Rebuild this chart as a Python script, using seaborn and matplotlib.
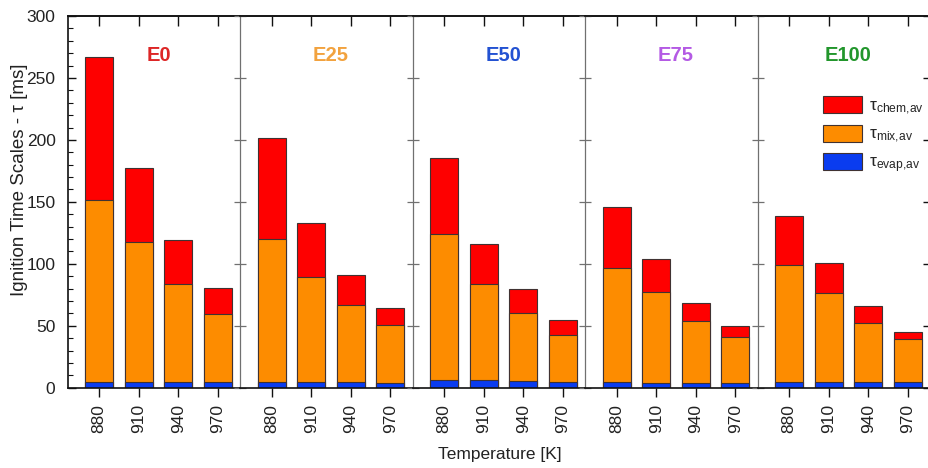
import numpy as np
import pandas as pd
import matplotlib
matplotlib.use("Agg")
import matplotlib.pyplot as plt
import seaborn as sns
from matplotlib.patches import Patch
from matplotlib.ticker import MultipleLocator

# ---------------- data ----------------
fuels = ["E0", "E25", "E50", "E75", "E100"]
fuel_colors = ["#dd2626", "#f2a23e", "#2352d2", "#b45ae4", "#22962c"]
temperatures = ["880", "910", "940", "970"]

# per fuel, per temperature [ms]
tau_evap = [
    [4.5, 4.5, 4.3, 4.3],
    [4.2, 4.2, 4.2, 4.0],
    [6.2, 6.2, 5.6, 4.8],
    [4.3, 3.5, 4.0, 4.0],
    [4.8, 4.8, 4.8, 4.8],
]
tau_mix = [
    [147.3, 113.1, 79.8, 54.8],
    [115.9, 84.8, 62.2, 46.3],
    [117.7, 77.9, 54.3, 37.4],
    [92.7, 73.6, 49.7, 37.1],
    [94.6, 71.8, 47.6, 34.2],
]
tau_chem = [
    [114.9, 59.4, 35.5, 21.5],
    [81.4, 43.7, 24.2, 14.2],
    [61.4, 32.2, 19.4, 12.4],
    [48.9, 26.4, 14.8, 8.6],
    [39.0, 24.1, 13.4, 5.6],
]
legend_labels = [r"τ$_{\mathrm{chem{,}av}}$", r"τ$_{\mathrm{mix{,}av}}$", r"τ$_{\mathrm{evap{,}av}}$"]

RED, ORANGE, BLUE = "#fe0000", "#fd8c00", "#0a3cf0"
EDGE = "#403232"

# ---------------- style ----------------
sns.set_style("ticks")
plt.rcParams["font.family"] = ["Liberation Sans", "DejaVu Sans"]
plt.rcParams["mathtext.fontset"] = "custom"
plt.rcParams["mathtext.rm"] = "Liberation Sans"
plt.rcParams["mathtext.it"] = "Liberation Sans:italic"
plt.rcParams["mathtext.bf"] = "Liberation Sans:bold"

W, H = 929, 468
fig, axes = plt.subplots(1, 5, figsize=(W / 100, H / 100), dpi=100, sharey=True)
fig.subplots_adjust(left=68 / W, right=930.5 / W, bottom=1 - 387.7 / H, top=1 - 16 / H, wspace=0)

for i, ax in enumerate(axes):
    evap = np.array(tau_evap[i])
    mix = np.array(tau_mix[i])
    chem = np.array(tau_chem[i])
    df = pd.DataFrame({
        "T": temperatures,
        "total": evap + mix + chem,
        "evap_mix": evap + mix,
        "evap": evap,
    })
    for col, c in [("total", RED), ("evap_mix", ORANGE), ("evap", BLUE)]:
        sns.barplot(data=df, x="T", y=col, color=c, saturation=1, width=0.7,
                    edgecolor=EDGE, linewidth=0.8, errorbar=None, ax=ax)
    ax.set_xlim(-0.79, 3.577)
    ax.set_ylim(0, 300)
    ax.set_xlabel("")
    ax.set_ylabel("")
    ax.text(1.5, 268, fuels[i], color=fuel_colors[i], ha="center", va="center",
            fontsize=14.5, fontweight="bold")

    # spines
    for s in ["top", "bottom"]:
        ax.spines[s].set_linewidth(1.2)
        ax.spines[s].set_color("#111111")
    ax.spines["right"].set_visible(i == 4)
    ax.spines["right"].set_color("#111111")
    if i == 0:
        ax.spines["left"].set_linewidth(1.2)
        ax.spines["left"].set_color("#111111")
    else:
        ax.spines["left"].set_linewidth(0.9)
        ax.spines["left"].set_color("#707070")

    # x ticks
    ax.tick_params(axis="x", direction="out", length=6.5, width=1.0, color="#111111",
                   labelrotation=90, labelsize=12.5, pad=5, labelcolor="#222222")
    sec = ax.secondary_xaxis("top")
    sec.set_xticks(range(len(temperatures)))
    sec.tick_params(direction="in", length=7, width=1.0, color="#111111", labeltop=False)
    sec.spines["top"].set_linewidth(1.2)

    # y ticks
    ax.yaxis.set_major_locator(MultipleLocator(50))
    ax.yaxis.set_minor_locator(MultipleLocator(10))
    if i == 0:
        ax.tick_params(axis="y", which="major", direction="in", length=6, width=1.0,
                       color="#111111", labelsize=12.5, pad=9, labelcolor="#222222")
        ax.tick_params(axis="y", which="minor", direction="in", length=3.5, width=0.8,
                       color="#111111")
    else:
        ax.tick_params(axis="y", which="major", direction="inout", length=8, width=0.9,
                       color="#707070", labelleft=False)
        ax.tick_params(axis="y", which="minor", left=False)

secy = axes[-1].secondary_yaxis("right")
secy.set_yticks(np.arange(0, 301, 50))
secy.tick_params(direction="in", length=6, width=1.0, color="#111111", labelright=False)

handles = [Patch(facecolor=c, edgecolor=EDGE, linewidth=0.8) for c in (RED, ORANGE, BLUE)]
axes[-1].legend(handles, legend_labels, loc="upper left",
                bbox_to_anchor=(822.7 / W, 1 - 96 / H), bbox_transform=fig.transFigure,
                frameon=False, fontsize=12.5, handlelength=2.25, handleheight=1.15,
                handletextpad=0.4, labelspacing=0.45, borderpad=0, borderaxespad=0)

fig.text(500 / W, 1 - 455 / H, "Temperature [K]", ha="center", va="center", fontsize=12.5,
         color="#222222")
fig.text(19.5 / W, 1 - 180 / H, "Ignition Time Scales - τ [ms]", ha="center", va="center",
         rotation=90, fontsize=13.5, color="#222222")

fig.savefig("out.png", dpi=100)
